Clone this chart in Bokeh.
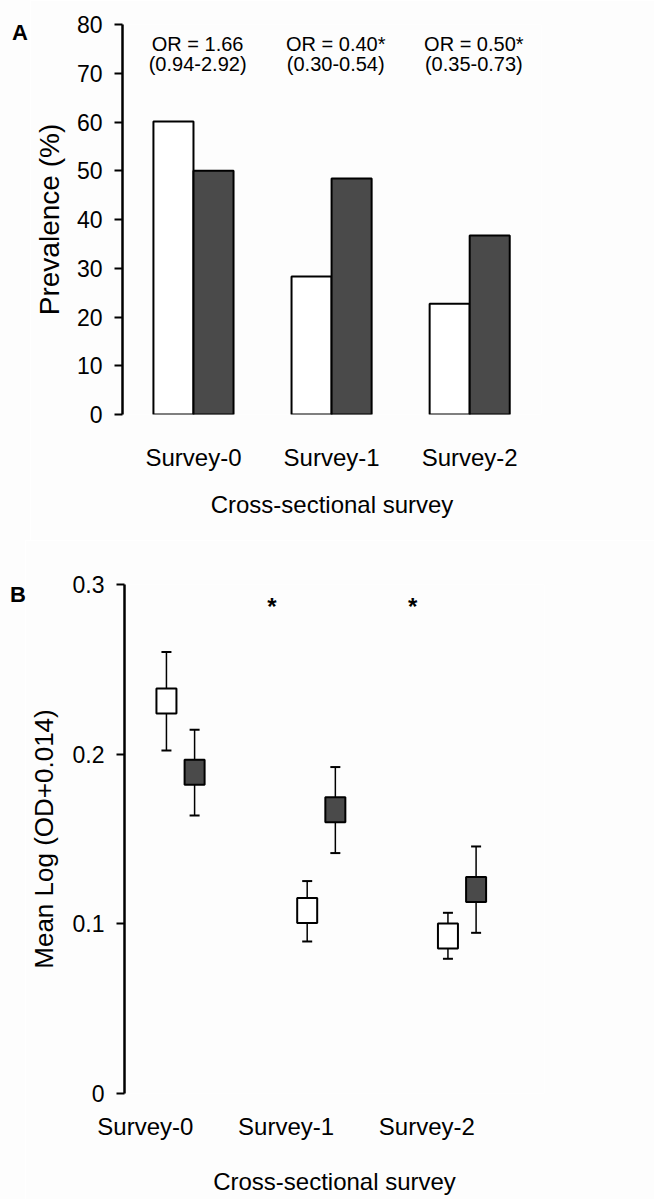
from bokeh.plotting import figure
from bokeh.layouts import column, row
from bokeh.models import FixedTicker, Div
from bokeh.embed import file_html
from bokeh.resources import INLINE
from bokeh.core.properties import value

# ---------------- data ----------------
surveys = ["Survey-0", "Survey-1", "Survey-2"]
groups = [0, 1, 2]

# Panel A: prevalence (%)
prev_white = [60.1, 28.3, 22.7]
prev_dark = [50.0, 48.4, 36.7]
or_text = ["OR = 1.66", "OR = 0.40*", "OR = 0.50*"]
ci_text = ["(0.94-2.92)", "(0.30-0.54)", "(0.35-0.73)"]
prev_ticks = [0, 10, 20, 30, 40, 50, 60, 70, 80]

# Panel B: mean log(OD+0.014) with error bars
mean_white = [0.2313, 0.1078, 0.0929]
upper_white = [0.2602, 0.1252, 0.1065]
lower_white = [0.2022, 0.0896, 0.0794]
mean_dark = [0.1894, 0.1672, 0.1202]
upper_dark = [0.2144, 0.1924, 0.1456]
lower_dark = [0.1639, 0.1417, 0.0947]
sig = ["", "*", "*"]
od_ticks = [0, 0.1, 0.2, 0.3]
od_tick_labels = ["0", "0.1", "0.2", "0.3"]

panel_letters = ["A", "B"]

FONT = "Liberation Sans"
DARK = "#4a4a4a"
BG = "#fdfdfd"


def style_common(p):
    p.toolbar_location = None
    p.outline_line_color = None
    p.xgrid.grid_line_color = None
    p.ygrid.grid_line_color = None
    p.background_fill_color = BG
    p.border_fill_color = BG
    for ax in (p.xaxis[0], p.yaxis[0]):
        ax.major_label_text_font = FONT
        ax.axis_label_text_font = FONT
        ax.axis_label_text_font_style = "normal"
        ax.major_label_text_color = "black"
        ax.axis_label_text_color = "black"
        ax.minor_tick_line_color = None
    xa = p.xaxis[0]
    xa.axis_line_color = None
    xa.major_tick_line_color = None
    xa.major_tick_out = 0
    xa.major_tick_in = 0
    xa.major_label_text_font_size = "24px"
    xa.axis_label_text_font_size = "24px"
    ya = p.yaxis[0]
    ya.axis_line_width = 2.5
    ya.axis_line_color = "black"
    ya.major_tick_line_width = 2
    ya.major_tick_line_color = "black"
    ya.major_tick_out = 8
    ya.major_tick_in = 0
    ya.major_label_text_font_size = "23px"


def letter_div(w, h, letter, pad_left, pad_top):
    html = ('<div style="font-family: \'%s\', sans-serif; font-weight: bold; '
            'font-size: 22px; line-height: 22px; color: black; margin: 0; '
            'padding: %dpx 0 0 %dpx;">%s</div>' % (FONT, pad_top, pad_left, letter))
    return Div(text=html, width=w, height=h, margin=0,
               styles={"background-color": BG})


# ---------------- Panel A ----------------
pA = figure(frame_width=419, frame_height=390,
            min_border_left=91, min_border_right=114,
            min_border_top=24, min_border_bottom=126,
            x_range=(-0.514, 2.52), y_range=(0, 80),
            output_backend="svg", toolbar_location=None)
style_common(pA)

bw = 0.29
pA.vbar(x=[g - bw / 2 for g in groups], top=prev_white, width=bw, bottom=0,
        fill_color="white", line_color="black", line_width=2)
pA.vbar(x=[g + bw / 2 for g in groups], top=prev_dark, width=bw, bottom=0,
        fill_color=DARK, line_color="black", line_width=2)

pA.text(x=[g + 0.03 for g in groups], y=[76.1] * 3, text=or_text,
        text_font=value(FONT), text_font_size="20px", text_align="center",
        text_baseline="alphabetic", text_color="black")
pA.text(x=[g + 0.03 for g in groups], y=[71.9] * 3, text=ci_text,
        text_font=value(FONT), text_font_size="20px", text_align="center",
        text_baseline="alphabetic", text_color="black")

pA.xaxis.ticker = FixedTicker(ticks=groups)
pA.xaxis.major_label_overrides = {g: s for g, s in zip(groups, surveys)}
pA.xaxis.major_label_standoff = 29
pA.xaxis.axis_label = "Cross-sectional survey"
pA.xaxis.axis_label_standoff = 17
pA.yaxis.ticker = FixedTicker(ticks=prev_ticks)
pA.yaxis.major_label_standoff = 12
pA.yaxis.axis_label = "Prevalence (%)"
pA.yaxis.axis_label_text_font_size = "28px"
pA.yaxis.axis_label_standoff = 9

labA = letter_div(30, 540, panel_letters[0], 12, 22)

# ---------------- Panel B ----------------
pB = figure(frame_width=420, frame_height=509,
            min_border_left=95, min_border_right=114,
            min_border_top=44, min_border_bottom=106,
            x_range=(-0.398, 2.586), y_range=(0, 0.3),
            output_backend="svg", toolbar_location=None)
style_common(pB)

off = 0.1
xw = [g - off for g in groups]
xd = [g + off for g in groups]
pB.segment(x0=xw, y0=lower_white, x1=xw, y1=upper_white, line_color="black", line_width=1.5)
pB.segment(x0=xd, y0=lower_dark, x1=xd, y1=upper_dark, line_color="black", line_width=1.5)
pB.scatter(x=xw + xw, y=upper_white + lower_white, marker="dash", size=10,
           line_color="black", line_width=2)
pB.scatter(x=xd + xd, y=upper_dark + lower_dark, marker="dash", size=10,
           line_color="black", line_width=2)
pB.rect(x=xw, y=mean_white, width=20, height=25, width_units="screen",
        height_units="screen", fill_color="white", line_color="black", line_width=2)
pB.rect(x=xd, y=mean_dark, width=20, height=25, width_units="screen",
        height_units="screen", fill_color=DARK, line_color="black", line_width=2)

pB.text(x=[g - 0.35 for g in groups], y=[0.287] * 3, text=sig,
        text_font=value(FONT), text_font_size="24px", text_font_style="bold",
        text_align="center", text_baseline="alphabetic", text_color="black")

b_tick_pos = [g - 0.25 for g in groups]
pB.xaxis.ticker = FixedTicker(ticks=b_tick_pos)
pB.xaxis.major_label_overrides = {t: s for t, s in zip(b_tick_pos, surveys)}
pB.xaxis.major_label_standoff = 19
pB.xaxis.axis_label = "Cross-sectional survey"
pB.xaxis.axis_label_standoff = 25
pB.yaxis.ticker = FixedTicker(ticks=od_ticks)
pB.yaxis.major_label_overrides = {t: s for t, s in zip(od_ticks, od_tick_labels)}
pB.yaxis.major_label_standoff = 12
pB.yaxis.axis_label = "Mean Log (OD+0.014)"
pB.yaxis.axis_label_text_font_size = "26px"
pB.yaxis.axis_label_standoff = 11

labB = letter_div(25, 659, panel_letters[1], 10, 44)

layout = column(row(labA, pA, spacing=0), row(labB, pB, spacing=0), spacing=0)
open("out.html", "w").write(file_html(layout, INLINE))
